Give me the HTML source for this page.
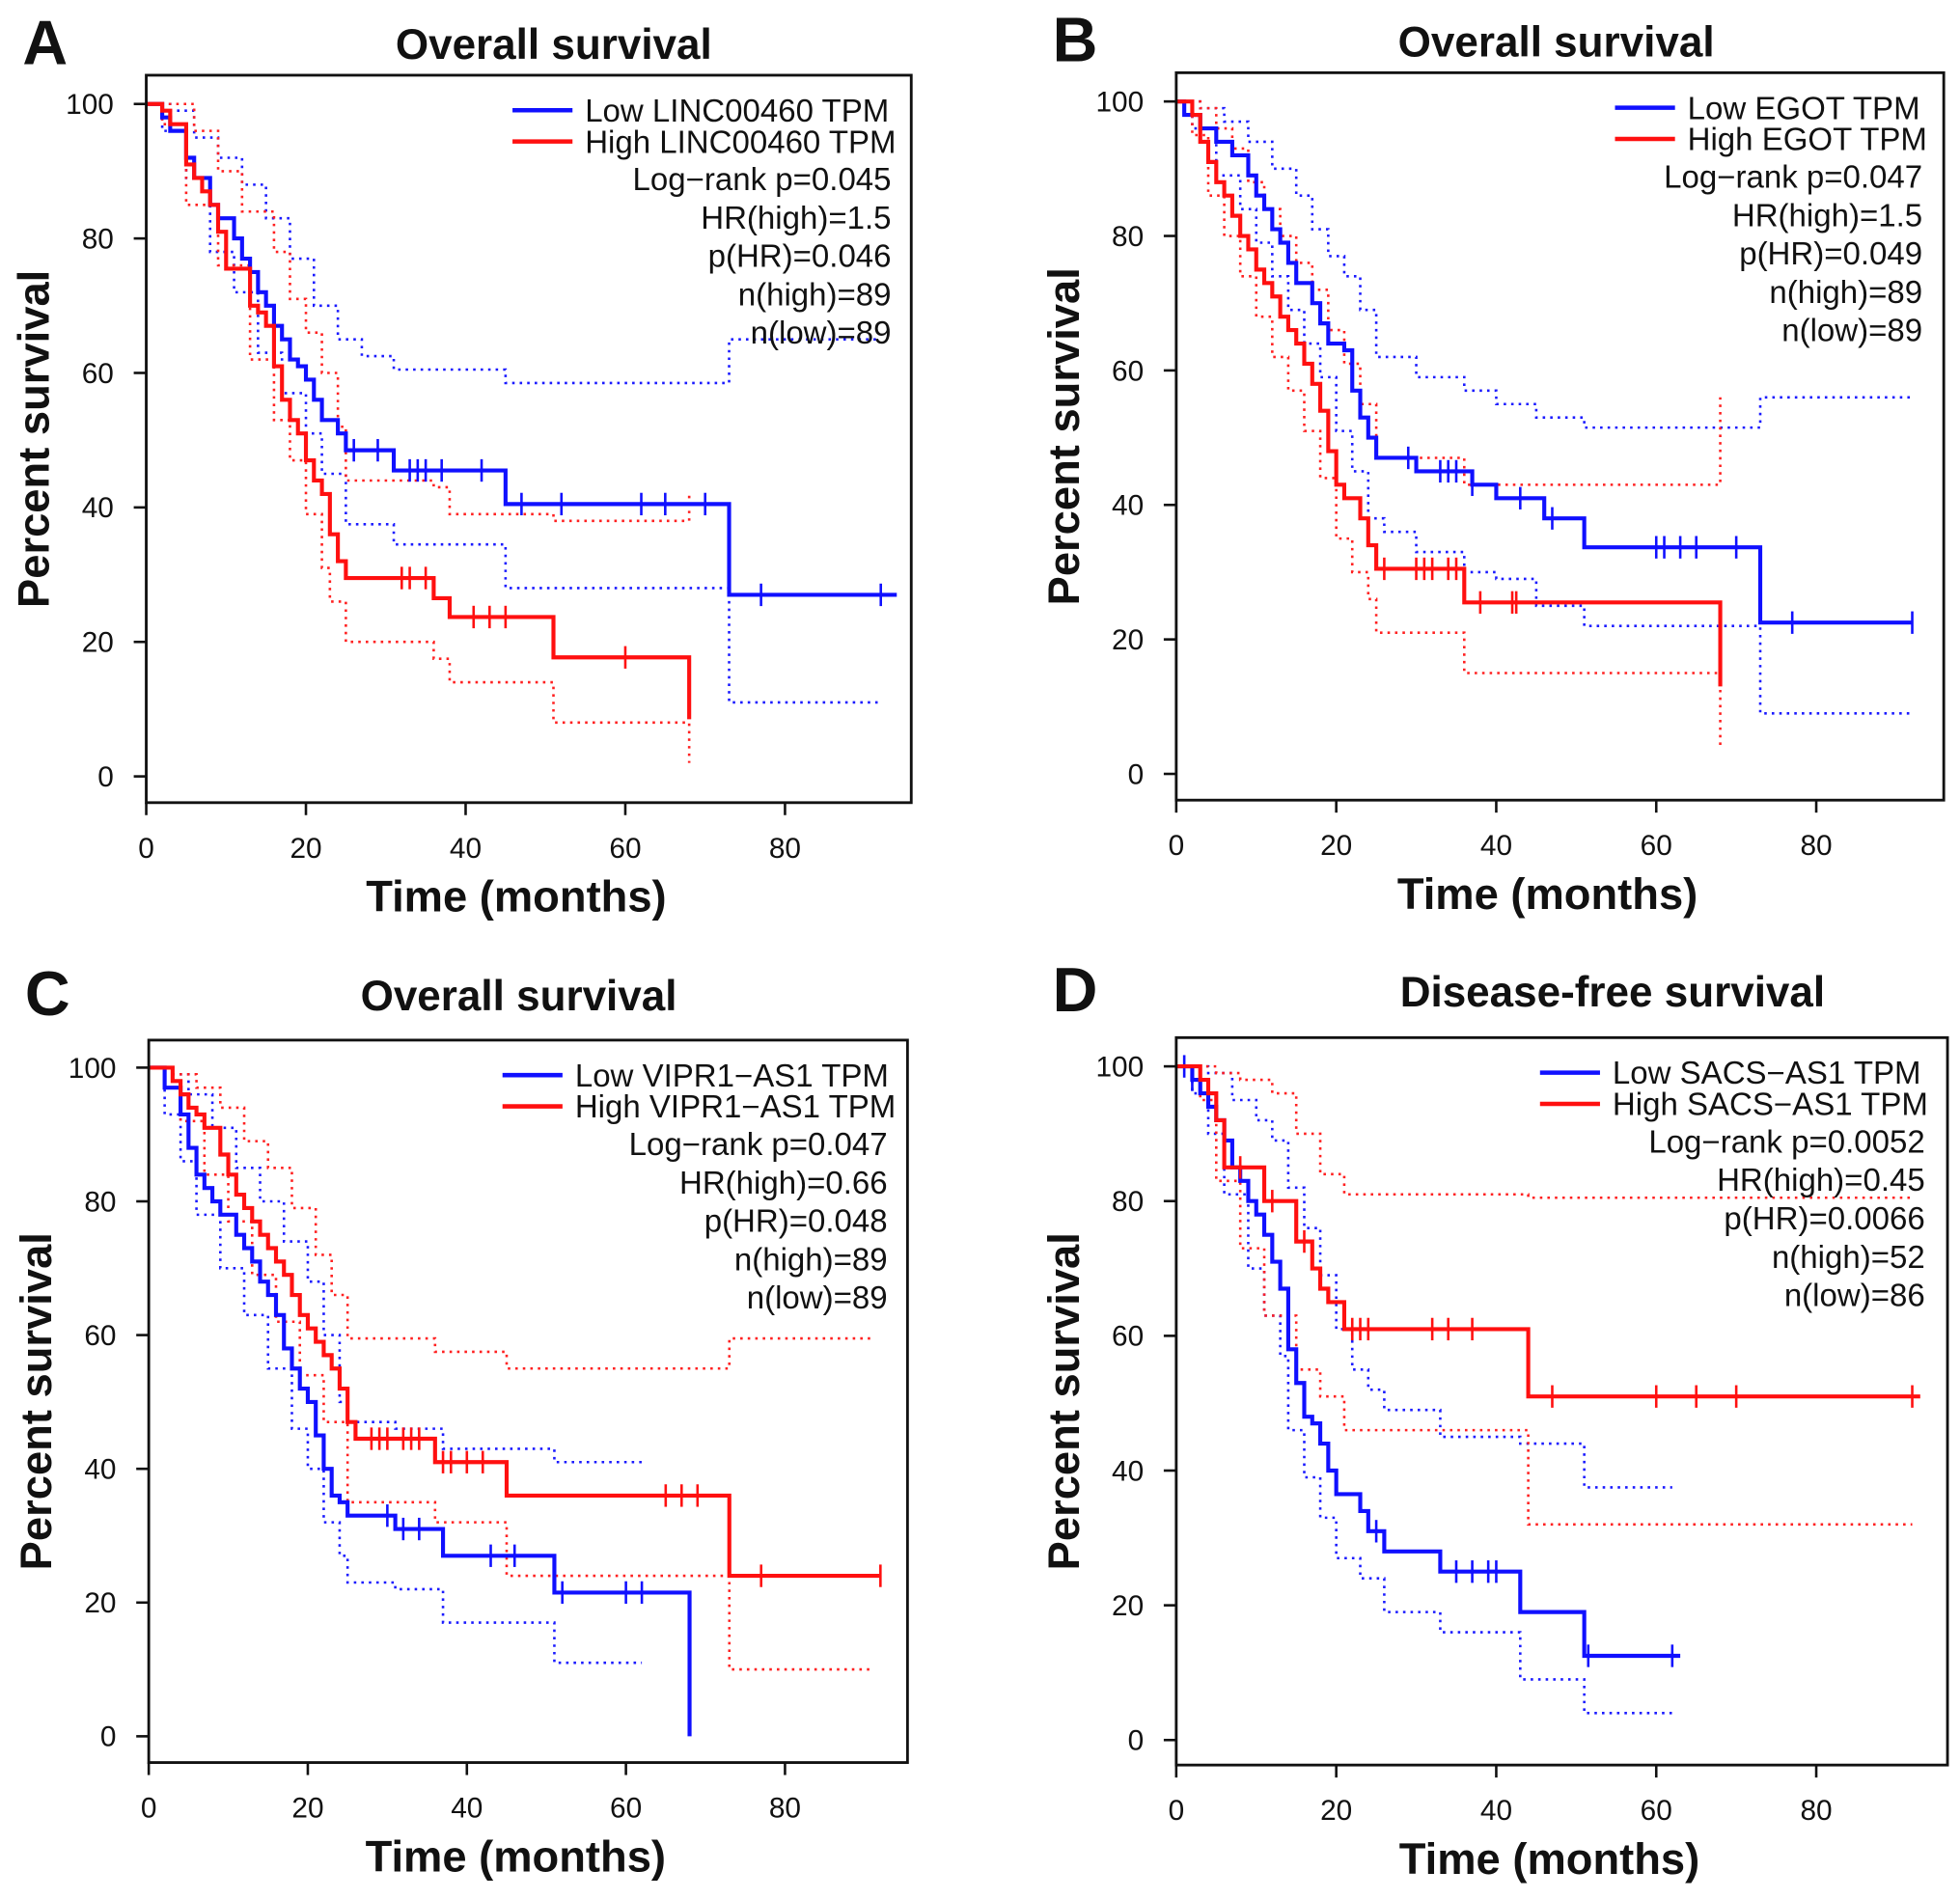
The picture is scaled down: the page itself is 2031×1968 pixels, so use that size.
<!DOCTYPE html>
<html><head><meta charset="utf-8">
<style>
html,body{margin:0;padding:0;background:#fff;}
svg{display:block;font-family:"Liberation Sans",Arial,sans-serif;}
</style></head>
<body>
<svg id="fig" width="2031" height="1968" viewBox="0 0 1568 1519" xmlns="http://www.w3.org/2000/svg"></svg>
<script>
// ---- Panel A data ----
const aLow = [[0,100],[2,98],[3,96],[5,92],[6,89],[8,85],[9,83],[11,80],[12,77],[13,75],[14,72],[15,70],[16,67],[17,65],[18,62],[19,61],[20,59],[21,56],[22,53],[24,51],[25,48.5],[31,45.5],[45,40.5],[73,27]];
const aLowEnd = 94;
const aLowCens = [26,29,33,34,35,37,42,47,52,62,65,70,77,92];
const aHigh = [[0,100],[2,99],[3,97],[5,91],[6,89],[7,87],[8,85],[9,81],[10,75.5],[13,70],[14,69],[15,67],[16,61],[17,56],[18,53],[19,51],[20,47],[21,44],[22,42],[23,36],[24,32],[25,29.5],[36,26.5],[38,23.7],[51,17.7],[68,8.5]];
const aHighEnd = 68;
const aHighCens = [32,33,35,41,43,45,60];
const aLowUp = [[0,100],[3,99],[6,95],[9,92],[12,88],[15,83],[18,77],[21,70],[24,65],[27,62.5],[31,60.5],[45,58.5],[73,65]];
const aLowLo = [[0,100],[2,96],[5,89],[8,78],[11,72],[14,63],[17,57],[20,51],[22,45],[25,37.5],[31,34.5],[45,28],[73,11]];
const aLowCiEnd = 92;
const aHighUp = [[0,100],[4,100],[6,96],[9,90],[12,84],[16,78],[18,71],[20,66],[22,60],[24,52],[25,44],[36,43],[38,39],[51,38],[68,42]];
const aHighLo = [[0,100],[2,97],[5,85],[9,76],[13,62],[16,53],[18,47],[20,39],[22,31],[23,26],[25,20],[36,17.5],[38,14],[51,8],[68,2]];
const aHighCiEnd = 68;
// ---- Panel B data ----
const bLow = [[0,100],[1,98],[3,96],[5,94],[7,92],[9,89],[10,86],[11,84],[12,81],[13,79],[14,76],[15,73],[17,70],[18,67],[19,64],[21,63],[22,57],[23,53],[24,50],[25,47],[30,45],[37,43],[40,41],[46,38],[51,33.7],[73,22.5]];
const bLowEnd = 92;
const bLowCens = [29,33,34,35,37,43,47,60,61,63,65,70,77,92];
const bHigh = [[0,100],[2,98],[3,94],[4,91],[5,88],[6,86],[7,83],[8,80],[9,78],[10,75],[11,73],[12,71],[13,68],[14,66],[15,64],[16,61],[17,58],[18,54],[19,48],[20,43],[21,41],[23,38],[24,34],[25,30.5],[36,25.5],[68,13]];
const bHighEnd = 68;
const bHighCens = [26,30,31,32,34,35,38,42,42.5];
const bLowUp = [[0,100],[3,99],[6,97],[9,94],[12,90],[15,86],[17,81],[19,77],[21,74],[23,69],[25,62],[30,59],[36,57],[40,55],[45,53],[51,51.5],[73,56]];
const bLowLo = [[0,100],[2,96],[5,89],[8,84],[10,79],[12,74],[14,69],[16,64],[18,59],[20,51],[22,45],[24,38],[26,36],[30,33],[36,30],[40,29],[45,25],[51,22],[73,9]];
const bLowCiEnd = 92;
const bHighUp = [[0,100],[3,99],[5,96],[7,93],[9,88],[11,84],[13,80],[15,76],[17,72],[19,66],[21,61],[23,55],[25,47],[36,43],[68,56]];
const bHighLo = [[0,100],[2,95],[4,86],[6,80],[8,74],[10,68],[12,62],[14,57],[16,51],[18,44],[20,35],[22,30],[24,26],[25,21],[36,15],[68,4]];
const bHighCiEnd = 68;
// ---- Panel C data ----
const cLow = [[0,100],[2,97],[4,93],[5,88],[6,84],[7,82],[8,80],[9,78],[11,75],[12,73],[13,71],[14,68],[15,66],[16,63],[17,58],[18,55],[19,52],[20,50],[21,45],[22,40],[23,36],[24,35],[25,33],[31,31],[37,27],[51,21.5],[68,0]];
const cLowEnd = 68;
const cLowCens = [30,32,34,43,46,52,60,62];
const cHigh = [[0,100],[3,98],[4,96],[5,94],[6,93],[7,91],[9,87],[10,84],[11,81],[12,79],[13,77],[14,75],[15,73],[16,71],[17,69],[18,66],[19,63],[20,61],[21,59],[22,57],[23,55],[24,52],[25,47],[26,44.5],[36,41],[45,36],[73,24]];
const cHighEnd = 92;
const cHighCens = [28,29,30,32,33,34,37,38,40,42,65,67,69,77,92];
const cLowUp = [[0,100],[3,99],[5,96],[8,91],[11,85],[14,80],[17,74],[20,68],[22,60],[24,50],[25,47],[31,46],[37,43],[51,41]];
const cLowLo = [[0,100],[2,93],[4,86],[6,78],[9,70],[12,63],[15,55],[18,46],[20,40],[22,32],[24,27],[25,23],[31,22],[37,17],[51,11]];
const cLowCiEnd = 62;
const cHighUp = [[0,100],[3,99],[6,97],[9,94],[12,89],[15,85],[18,79],[21,72],[23,66],[25,59.5],[36,57.5],[45,55],[73,59.5]];
const cHighLo = [[0,100],[2,97],[4,92],[7,84],[10,77],[13,69],[16,62],[19,54],[22,47],[25,35],[36,32],[45,24],[73,10]];
const cHighCiEnd = 91;
// ---- Panel D data ----
const dLow = [[0,100],[2,98],[3,96],[4,94],[5,92],[6,89],[7,85],[8,83],[9,80],[10,78],[11,75],[12,71],[13,67],[14,58],[15,53],[16,48],[17,47],[18,44],[19,40],[20,36.5],[23,34],[24,31],[26,28],[33,25],[43,19],[51,12.5]];
const dLowEnd = 63;
const dLowCens = [1,2,25,35,37,39,40,51.5,62];
const dHigh = [[0,100],[3,98],[4,96],[5,92],[6,85],[11,80],[15,74],[17,70],[18,67],[19,65],[21,61],[44,51]];
const dHighEnd = 93;
const dHighCens = [8,12,16,22,23,24,32,34,37,47,60,65,70,92];
const dLowUp = [[0,100],[4,99],[7,95],[10,92],[12,89],[14,82],[16,76],[18,69],[20,61],[22,55],[24,52],[26,49],[33,45],[43,44],[51,37.5]];
const dLowLo = [[0,100],[2,96],[4,90],[6,81],[9,70],[11,63],[13,57],[14,46],[16,39],[18,33],[20,27],[23,24],[26,19],[33,16],[43,9],[51,4]];
const dLowCiEnd = 62;
const dHighUp = [[0,100],[5,99],[8,98],[12,96],[15,90],[18,84],[21,81],[44,80.5]];
const dHighLo = [[0,100],[3,95],[5,83],[8,73],[11,63],[15,55],[18,51],[21,46],[44,32]];
const dHighCiEnd = 92;

const xTicks = [0,20,40,60,80];
const yTicks = [0,20,40,60,80,100];

const NS = "http://www.w3.org/2000/svg";
const svg = document.getElementById('fig');
function mk(tag, attrs, parent, text){
  const e = document.createElementNS(NS, tag);
  for (const k in attrs) e.setAttribute(k, attrs[k]);
  if (text !== undefined) e.textContent = text;
  (parent||svg).appendChild(e);
  return e;
}
function stepPath(pts, end, sx, sy){
  let d = 'M'+sx(pts[0][0])+' '+sy(pts[0][1]);
  for (let i=1;i<pts.length;i++){ d += ' H'+sx(pts[i][0])+' V'+sy(pts[i][1]); }
  d += ' H'+sx(end);
  return d;
}
function valAt(pts, t){
  let v = pts[0][1];
  for (const p of pts){ if (p[0] <= t) v = p[1]; }
  return v;
}

const panels = [
 {letter:'A', title:'Overall survival', box:[117,60,729,642], y100:83, y0:621, x0:117, x80:628, titleX:443, titleY:47,
  low:aLow, lowEnd:aLowEnd, lowCens:aLowCens, high:aHigh, highEnd:aHighEnd, highCens:aHighCens,
  lowUp:aLowUp, lowLo:aLowLo, lowCiEnd:aLowCiEnd, highUp:aHighUp, highLo:aHighLo, highCiEnd:aHighCiEnd,
  gene:'LINC00460', leg:[410,88], statsX:713, statsY:143, stats:['Log\u2212rank  p=0.045','HR(high)=1.5','p(HR)=0.046','n(high)=89','n(low)=89']},
 {letter:'B', title:'Overall survival', box:[941,58,1555,640], y100:81, y0:619, x0:941, x80:1453, titleX:1245, titleY:45,
  low:bLow, lowEnd:bLowEnd, lowCens:bLowCens, high:bHigh, highEnd:bHighEnd, highCens:bHighCens,
  lowUp:bLowUp, lowLo:bLowLo, lowCiEnd:bLowCiEnd, highUp:bHighUp, highLo:bHighLo, highCiEnd:bHighCiEnd,
  gene:'EGOT', leg:[1292,86], statsX:1538, statsY:141, stats:['Log\u2212rank  p=0.047','HR(high)=1.5','p(HR)=0.049','n(high)=89','n(low)=89']},
 {letter:'C', title:'Overall survival', box:[119,832,726,1410], y100:854, y0:1389, x0:119, x80:628, titleX:415, titleY:808,
  low:cLow, lowEnd:cLowEnd, lowCens:cLowCens, high:cHigh, highEnd:cHighEnd, highCens:cHighCens,
  lowUp:cLowUp, lowLo:cLowLo, lowCiEnd:cLowCiEnd, highUp:cHighUp, highLo:cHighLo, highCiEnd:cHighCiEnd,
  gene:'VIPR1\u2212AS1', leg:[402,860], statsX:710, statsY:915, stats:['Log\u2212rank  p=0.047','HR(high)=0.66','p(HR)=0.048','n(high)=89','n(low)=89']},
 {letter:'D', title:'Disease-free survival', box:[941,830,1558,1412], y100:853, y0:1392, x0:941, x80:1453, titleX:1290, titleY:805,
  low:dLow, lowEnd:dLowEnd, lowCens:dLowCens, high:dHigh, highEnd:dHighEnd, highCens:dHighCens,
  lowUp:dLowUp, lowLo:dLowLo, lowCiEnd:dLowCiEnd, highUp:dHighUp, highLo:dHighLo, highCiEnd:dHighCiEnd,
  gene:'SACS\u2212AS1', leg:[1232,858], statsX:1540, statsY:913, stats:['Log\u2212rank  p=0.0052','HR(high)=0.45','p(HR)=0.0066','n(high)=52','n(low)=86']}
];

panels.forEach(p=>{
  const L = p.letter.toLowerCase();
  const g = mk('g',{});
  
  
  const sx = t => p.x0 + t*(p.x80-p.x0)/80;
  const sy = v => p.y0 - v*(p.y0-p.y100)/100;
  const [bx1,by1,bx2,by2] = p.box;

  const letter = mk('text',{x:p.box[0]-99, y:p.titleY+4, 'font-size':50, 'font-weight':'bold', fill:'#111'}, g, p.letter);
  
  
  const title = mk('text',{x:p.titleX, y:p.titleY, 'font-size':34, 'font-weight':'bold', 'text-anchor':'middle', fill:'#111'}, g, p.title);
  
  

  const ci = [[p.lowUp,p.lowCiEnd,'#1a1aff','low-ci-upper'],[p.lowLo,p.lowCiEnd,'#1a1aff','low-ci-lower'],
              [p.highUp,p.highCiEnd,'#ff2020','high-ci-upper'],[p.highLo,p.highCiEnd,'#ff2020','high-ci-lower']];
  ci.forEach(c=>{
    const e = mk('path',{d:stepPath(c[0],c[1],sx,sy), fill:'none', stroke:c[2], 'stroke-width':2, 'stroke-dasharray':'2 4'}, g);
    
    
  });
  const curves = [[p.low,p.lowEnd,p.lowCens,'#1010ff','low-curve'],[p.high,p.highEnd,p.highCens,'#ff1010','high-curve']];
  curves.forEach(c=>{
    const e = mk('path',{d:stepPath(c[0],c[1],sx,sy), fill:'none', stroke:c[3], 'stroke-width':3.2}, g);
    
    
    c[2].forEach(t=>{
      const y = sy(valAt(c[0],t));
      const m = mk('line',{x1:sx(t), x2:sx(t), y1:y-9, y2:y+9, stroke:c[3], 'stroke-width':2}, g);
      
      
    });
  });

  const box = mk('rect',{x:bx1, y:by1, width:bx2-bx1, height:by2-by1, fill:'none', stroke:'#111', 'stroke-width':2.2}, g);
  
  

  yTicks.forEach(v=>{
    const y = sy(v);
    const tl = mk('line',{x1:bx1-10, x2:bx1, y1:y, y2:y, stroke:'#111', 'stroke-width':2}, g);
    
    
    const tx = mk('text',{x:bx1-26, y:y+8, 'font-size':23, 'text-anchor':'end', fill:'#111'}, g, String(v));
    
    
  });
  xTicks.forEach(v=>{
    const x = sx(v);
    const tl = mk('line',{x1:x, x2:x, y1:by2, y2:by2+10, stroke:'#111', 'stroke-width':2}, g);
    
    
    const tx = mk('text',{x:x, y:by2+44, 'font-size':23, 'text-anchor':'middle', fill:'#111'}, g, String(v));
    
    
  });
  const xt = mk('text',{x:(bx1+bx2)/2 - 10, y:by2+87, 'font-size':35, 'text-anchor':'middle', fill:'#111', 'font-weight':'bold'}, g, 'Time (months)');
  
  
  const ycx = bx1-78, ycy = (by1+by2)/2;
  const yt = mk('text',{x:ycx, y:ycy, 'font-size':35, 'text-anchor':'middle', fill:'#111', 'font-weight':'bold', transform:'rotate(-90 '+ycx+' '+ycy+')'}, g, 'Percent survival');
  
  

  const [lx,ly] = p.leg;
  [['Low','#1010ff'],['High','#ff1010']].forEach((s,i)=>{
    const y = ly + i*25;
    const ln = mk('line',{x1:lx, x2:lx+48, y1:y, y2:y, stroke:s[1], 'stroke-width':3.5}, g);
    
    
    const tx = mk('text',{x:lx+58, y:y+9, 'font-size':25.5, fill:'#111'}, g, s[0]+' '+p.gene+' TPM');
    
    
  });
  p.stats.forEach((s,i)=>{
    const tx = mk('text',{x:p.statsX, y:p.statsY+9+i*30.7, 'font-size':25.5, 'text-anchor':'end', fill:'#111'}, g, s);
    
    
  });
});
</script>
</body></html>
